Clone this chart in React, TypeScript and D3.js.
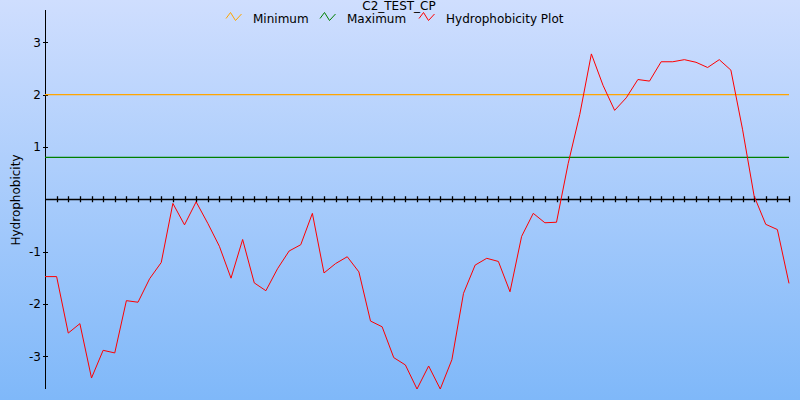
import React from "react";
import * as d3 from "d3";

const title = "C2_TEST_CP";
const yLabel = "Hydrophobicity";
const seriesNames = ["Minimum", "Maximum", "Hydrophobicity Plot"];
const seriesColors = ["#ffa500", "#008000", "#ff0000"];
const minimumValue = 2.0;
const maximumValue = 0.8;
const yTicks = [-3, -2, -1, 1, 2, 3];
const hydro = [
  -1.48, -1.48, -2.56, -2.38, -3.42, -2.89, -2.94, -1.94, -1.97, -1.52,
  -1.21, -0.08, -0.49, -0.05, -0.46, -0.9, -1.51, -0.77, -1.6, -1.75,
  -1.33, -0.99, -0.87, -0.27, -1.41, -1.23, -1.1, -1.39, -2.33, -2.44,
  -3.03, -3.17, -3.63, -3.19, -3.63, -3.07, -1.8, -1.26, -1.13, -1.19,
  -1.77, -0.71, -0.27, -0.45, -0.44, 0.68, 1.62, 2.78, 2.18, 1.7,
  1.94, 2.29, 2.26, 2.63, 2.63, 2.67, 2.62, 2.52, 2.67, 2.47,
  1.34, 0.06, -0.48, -0.58, -1.61,
];

const W = 800;
const H = 400;
const FONT = "'DejaVu Sans', Verdana, sans-serif";

export default function App() {
  const n = hydro.length;
  const x = d3.scaleLinear().domain([0, n - 1]).range([45, 789]);
  const y = d3.scaleLinear().domain([-3.63, 3.62]).range([389, 10]);
  const line = d3
    .line<number>()
    .x((_, i) => x(i))
    .y((d) => y(d));
  const y0 = y(0);
  const xTickIdx = d3.range(1, n);

  const legendItems = [
    { name: seriesNames[0], color: seriesColors[0], ix: 226, tx: 253 },
    { name: seriesNames[1], color: seriesColors[1], ix: 320, tx: 347 },
    { name: seriesNames[2], color: seriesColors[2], ix: 419, tx: 446 },
  ];

  return (
    <div style={{ position: "fixed", left: 0, top: 0 }}>
      <svg width={W} height={H} style={{ display: "block" }}>
        <defs>
          <linearGradient id="bg" x1="0" y1="0" x2="0" y2="1">
            <stop offset="0%" stopColor="#cfdefe" />
            <stop offset="100%" stopColor="#7fb8f9" />
          </linearGradient>
        </defs>
        <rect x={0} y={0} width={W} height={H} fill="url(#bg)" />

        <text x={399} y={9.5} textAnchor="middle" fontFamily={FONT} fontSize={12} fill="#000">
          {title}
        </text>

        {legendItems.map((it) => (
          <g key={it.name}>
            <polyline
              points={`${it.ix},18.5 ${it.ix + 4.5},12.5 ${it.ix + 9.5},20.5 ${it.ix + 15.5},14`}
              fill="none"
              stroke={it.color}
              strokeWidth={1}
            />
            <text x={it.tx} y={23} fontFamily={FONT} fontSize={12} fill="#000">
              {it.name}
            </text>
          </g>
        ))}

        <text
          transform={`translate(20,${200}) rotate(-90)`}
          textAnchor="middle"
          fontFamily={FONT}
          fontSize={12}
          fill="#000"
        >
          {yLabel}
        </text>

        {/* y axis */}
        <line x1={45.5} x2={45.5} y1={10} y2={389} stroke="#000" strokeWidth={1} />
        {yTicks.map((t) => (
          <g key={t}>
            <line x1={43} x2={48} y1={Math.round(y(t)) + 0.5} y2={Math.round(y(t)) + 0.5} stroke="#000" />
            <text
              x={41}
              y={y(t) + 4.5}
              textAnchor="end"
              fontFamily={FONT}
              fontSize={12}
              fill="#000"
            >
              {t}
            </text>
          </g>
        ))}

        {/* x axis */}
        <line x1={45} x2={789} y1={Math.round(y0) + 0.5} y2={Math.round(y0) + 0.5} stroke="#000" strokeWidth={1.3} />
        {xTickIdx.map((i) => (
          <line
            key={i}
            x1={Math.round(x(i)) + 0.5}
            x2={Math.round(x(i)) + 0.5}
            y1={y0 - 3}
            y2={y0 + 3}
            stroke="#000"
            strokeWidth={1.3}
          />
        ))}

        <line x1={45} x2={789} y1={y(minimumValue)} y2={y(minimumValue)} stroke={seriesColors[0]} strokeWidth={1.2} />
        <line x1={45} x2={789} y1={y(maximumValue)} y2={y(maximumValue)} stroke={seriesColors[1]} strokeWidth={1.2} />
        <path d={line(hydro) || ""} fill="none" stroke={seriesColors[2]} strokeWidth={1} />
      </svg>
    </div>
  );
}
